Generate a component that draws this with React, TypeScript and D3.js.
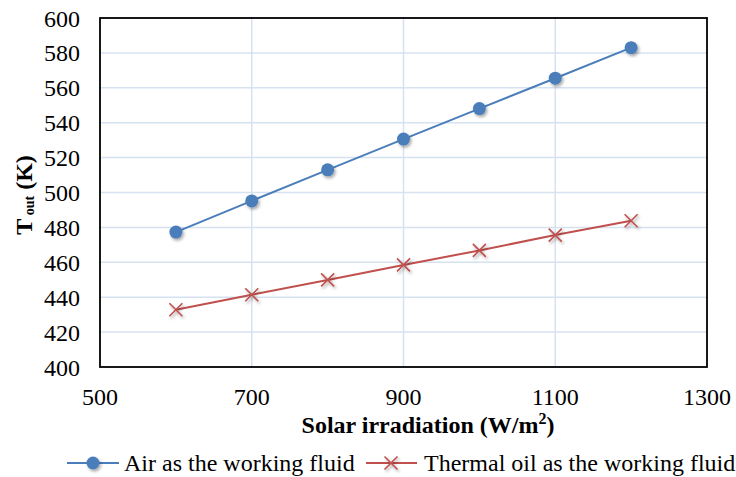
import React from "react";
import * as d3 from "d3";

const irradiation = [600, 700, 800, 900, 1000, 1100, 1200];
const airTout = [477.3, 495.2, 513, 530.6, 548.1, 565.5, 583];
const oilTout = [432.8, 441.4, 449.9, 458.5, 466.8, 475.6, 483.8];
const xTicks = [500, 700, 900, 1100, 1300];
const yTicks = [400, 420, 440, 460, 480, 500, 520, 540, 560, 580, 600];
const seriesNames = ["Air as the working fluid", "Thermal oil as the working fluid"];

const W = 736, H = 477;
const L = 100, R = 707, T = 18, B = 367;
const blue = "#4A7EBB";
const red = "#C0504D";
const ff = { fontFamily: "Liberation Serif" };

export default function App() {
  const x = d3.scaleLinear().domain([500, 1300]).range([L, R]);
  const y = d3.scaleLinear().domain([400, 600]).range([B, T]);
  const line = d3.line<number>().x((_, i) => x(irradiation[i])).y((v) => y(v));
  const cross = (cx: number, cy: number, s: number, key: string | number) => (
    <path key={key} d={`M${cx - s},${cy - s}L${cx + s},${cy + s}M${cx - s},${cy + s}L${cx + s},${cy - s}`}
      stroke={red} strokeWidth={1.6} fill="none" filter="url(#sh)" />
  );
  return (
    <svg width={W} height={H} style={{ position: "absolute", left: 0, top: 0 }}>
      <defs>
        <filter id="sh" x="-50%" y="-50%" width="200%" height="200%">
          <feDropShadow dx="1.5" dy="2" stdDeviation="1.5" floodColor="#000" floodOpacity="0.35" />
        </filter>
      </defs>
      <rect width={W} height={H} fill="#fff" />
      {yTicks.slice(1, -1).map((t) => (
        <line key={"gy" + t} x1={L} x2={R} y1={y(t)} y2={y(t)} stroke="#D6E2F0" strokeWidth={1.5} />
      ))}
      {xTicks.slice(1, -1).map((t) => (
        <line key={"gx" + t} x1={x(t)} x2={x(t)} y1={T} y2={B} stroke="#D6E2F0" strokeWidth={1.5} />
      ))}
      <rect x={L} y={T} width={R - L} height={B - T} fill="none" stroke="#000" strokeWidth={1.8} />
      {yTicks.map((t) => (
        <text key={"ty" + t} x={80} y={y(t) + 8.5} textAnchor="end" fontSize={24} style={ff}>{t}</text>
      ))}
      {xTicks.map((t) => (
        <text key={"tx" + t} x={x(t)} y={405} textAnchor="middle" fontSize={24} style={ff}>{t}</text>
      ))}
      <text x={428} y={433} textAnchor="middle" fontSize={24} fontWeight="bold" style={ff}>
        Solar irradiation (W/m<tspan dy={-9} fontSize={16}>2</tspan><tspan dy={9}>)</tspan>
      </text>
      <text transform={`translate(32,${195}) rotate(-90)`} textAnchor="middle" fontSize={24} fontWeight="bold" style={ff}>
        T<tspan dy={2} fontSize={14}> out</tspan><tspan dy={-2}> (K)</tspan>
      </text>
      <path d={line(airTout) || ""} fill="none" stroke={blue} strokeWidth={2} />
      <path d={line(oilTout) || ""} fill="none" stroke={red} strokeWidth={2} />
      {airTout.map((v, i) => (
        <circle key={"a" + i} cx={x(irradiation[i])} cy={y(v)} r={6.5} fill={blue} filter="url(#sh)" />
      ))}
      {oilTout.map((v, i) => cross(x(irradiation[i]), y(v), 6.5, "o" + i))}
      <line x1={67} x2={119} y1={463} y2={463} stroke={blue} strokeWidth={2} />
      <circle cx={93} cy={463} r={6.5} fill={blue} filter="url(#sh)" />
      <text x={124} y={471} fontSize={24} style={ff}>{seriesNames[0]}</text>
      <line x1={366} x2={417} y1={463} y2={463} stroke={red} strokeWidth={2} />
      {cross(391, 463, 6.5, "leg")}
      <text x={424} y={471} fontSize={24} style={ff}>{seriesNames[1]}</text>
    </svg>
  );
}
